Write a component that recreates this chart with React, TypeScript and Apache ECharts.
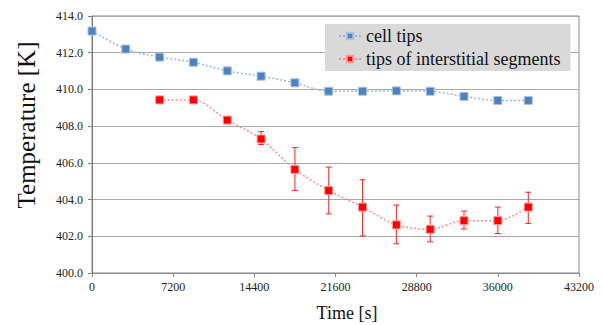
import React, { useEffect, useRef } from "react";
import * as echarts from "echarts";

// ---- data ----
const cellTime = [0, 3000, 6000, 9000, 12000, 15000, 18000, 21000, 24000, 27000, 30000, 33000, 36000, 38700];
const cellTemp = [413.18, 412.2, 411.76, 411.48, 411.01, 410.72, 410.36, 409.9, 409.9, 409.92, 409.9, 409.62, 409.4, 409.4];

const segTime = [6000, 9000, 12000, 15000, 18000, 21000, 24000, 27000, 30000, 33000, 36000, 38700];
const segTemp = [409.43, 409.43, 408.33, 407.3, 405.64, 404.49, 403.59, 402.62, 402.38, 402.85, 402.85, 403.59];
const segLow: (number | null)[] = [null, null, null, 407.0, 404.5, 403.22, 402.02, 401.59, 401.7, 402.4, 402.15, 402.7];
const segHigh: (number | null)[] = [null, null, null, 407.7, 406.83, 405.77, 405.08, 403.7, 403.1, 403.37, 403.59, 404.4];

const seriesNames = ["cell tips", "tips of interstitial segments"];
const xTitle = "Time [s]";
const yTitle = "Temperature [K]";

const FONT = "serif";

export default function App() {
  const ref = useRef<HTMLDivElement>(null);

  useEffect(() => {
    if (!ref.current) return;
    const chart = echarts.init(ref.current, undefined, { renderer: "svg" });

    const errData = segTime
      .map((t, i) => [t, segLow[i], segHigh[i]])
      .filter((d) => d[1] != null && d[2] != null);

    const option: any = {
      animation: false,
      backgroundColor: "#ffffff",
      grid: {
        left: 92,
        right: 24,
        top: 16,
        bottom: 52,
        containLabel: false,
        outerBoundsMode: "none",
        show: true,
        borderColor: "#8a8a8a",
        borderWidth: 1,
        backgroundColor: "transparent",
      },
      legend: {
        data: seriesNames,
        orient: "vertical",
        left: 325,
        top: 24,
        padding: [3, 10, 3, 13],
        itemGap: 5,
        itemWidth: 22,
        itemHeight: 8,
        backgroundColor: "#d9d9d9",
        textStyle: { fontFamily: FONT, fontSize: 18, color: "#111" },
      },
      xAxis: {
        type: "value",
        min: 0,
        max: 43200,
        interval: 7200,
        axisLine: { show: true, lineStyle: { color: "#8a8a8a", width: 1 } },
        axisTick: { show: true, inside: false, length: 4, lineStyle: { color: "#8a8a8a" } },
        axisLabel: {
          fontFamily: FONT,
          fontSize: 12,
          color: "#222",
          margin: 8,
          formatter: (v: number) => String(v),
        },
        splitLine: { show: false },
      },
      yAxis: {
        type: "value",
        min: 400,
        max: 414,
        interval: 2,
        axisLine: { show: true, lineStyle: { color: "#7a7a7a", width: 1 } },
        axisTick: { show: true, inside: false, length: 4, lineStyle: { color: "#7a7a7a" } },
        axisLabel: {
          fontFamily: FONT,
          fontSize: 12,
          color: "#222",
          margin: 9,
          formatter: (v: number) => v.toFixed(1),
        },
        splitLine: { show: true, lineStyle: { color: "#a8a8a8", width: 1 } },
      },
      graphic: [
        {
          type: "text",
          x: 26,
          y: 125,
          rotation: Math.PI / 2,
          style: {
            text: yTitle,
            font: `25px ${FONT}`,
            fill: "#111",
            align: "center",
            verticalAlign: "middle",
          },
        },
        {
          type: "text",
          x: 347,
          y: 313,
          style: {
            text: xTitle,
            font: `18px ${FONT}`,
            fill: "#111",
            align: "center",
            verticalAlign: "middle",
          },
        },
      ],
      series: [
        {
          name: seriesNames[0],
          type: "line",
          data: cellTime.map((t, i) => [t, cellTemp[i]]),
          smooth: 0.3,
          symbol: "rect",
          symbolSize: 8,
          z: 3,
          lineStyle: { color: "#9ab6da", width: 1.5, type: [2, 2] },
          itemStyle: { color: "#4f81bd", borderColor: "#a9c1e0", borderWidth: 1 },
        },
        {
          name: seriesNames[1],
          type: "line",
          data: segTime.map((t, i) => [t, segTemp[i]]),
          smooth: 0.3,
          symbol: "rect",
          symbolSize: 8,
          z: 3,
          lineStyle: { color: "#ff8a8a", width: 1.5, type: [2, 2] },
          itemStyle: { color: "#ff0000", borderColor: "#ff9a9a", borderWidth: 1 },
        },
        {
          name: "error",
          type: "custom",
          z: 2,
          encode: { x: 0, y: [1, 2] },
          data: errData,
          renderItem: (params: any, api: any) => {
            const x = api.value(0);
            const lo = api.value(1);
            const hi = api.value(2);
            const p1 = api.coord([x, hi]);
            const p2 = api.coord([x, lo]);
            const w = 3;
            const style = { stroke: "#ff2020", lineWidth: 1 };
            return {
              type: "group",
              children: [
                { type: "line", shape: { x1: p1[0], y1: p1[1], x2: p2[0], y2: p2[1] }, style },
                { type: "line", shape: { x1: p1[0] - w, y1: p1[1], x2: p1[0] + w, y2: p1[1] }, style },
                { type: "line", shape: { x1: p2[0] - w, y1: p2[1], x2: p2[0] + w, y2: p2[1] }, style },
              ],
            };
          },
        },
      ],
    };

    chart.setOption(option);
    return () => chart.dispose();
  }, []);

  return (
    <div
      ref={ref}
      style={{ position: "fixed", left: 0, top: 0, width: 603, height: 325 }}
    />
  );
}
